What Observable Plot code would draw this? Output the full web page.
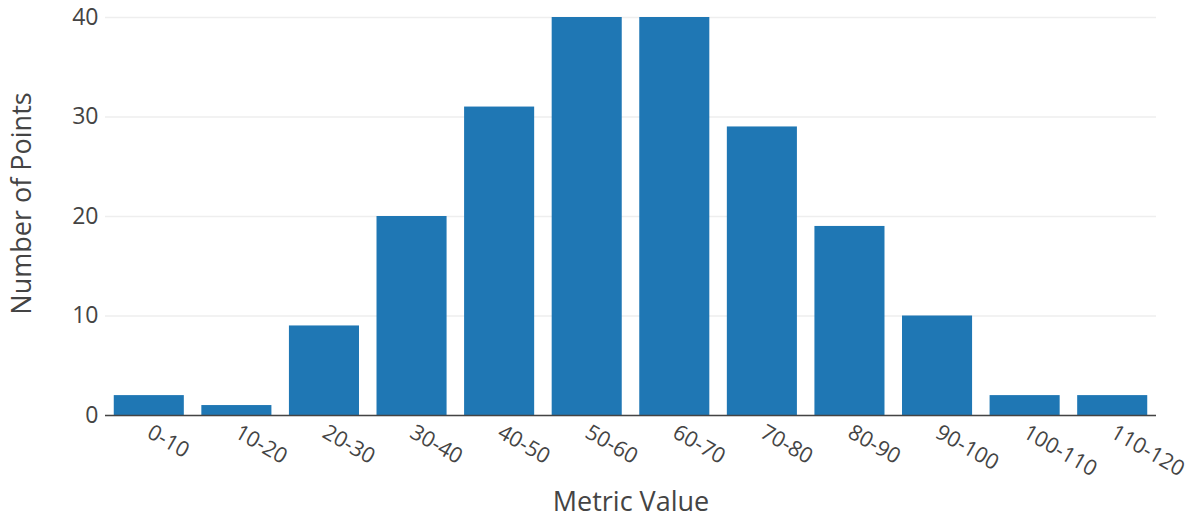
<!DOCTYPE html>
<html>
<head>
<meta charset="utf-8">
<script src="https://cdn.jsdelivr.net/npm/d3@7"></script>
<script src="https://cdn.jsdelivr.net/npm/@observablehq/plot@0.6"></script>
<style>
  html, body { margin: 0; padding: 0; background: #fff; }
  #chart svg { display: block; }
</style>
</head>
<body>
<div id="chart"></div>
<script>
const categories = ["0-10","10-20","20-30","30-40","40-50","50-60","60-70","70-80","80-90","90-100","100-110","110-120"];
const counts = [2, 1, 9, 20, 31, 40, 40, 29, 19, 10, 2, 2];
const yTicks = [0, 10, 20, 30, 40];
const xTitle = "Metric Value";
const yTitle = "Number of Points";

const data = categories.map((c, i) => ({bin: c, count: counts[i]}));

const chart = Plot.plot({
  width: 1194,
  height: 518,
  marginLeft: 105,
  marginRight: 38,
  marginTop: 17,
  marginBottom: 103,
  style: {fontFamily: "'Open Sans', sans-serif", color: "#444", background: "#fff"},
  x: {domain: categories, paddingInner: 0.2, paddingOuter: 0.1, round: false, label: null},
  y: {domain: [0, 40], label: null},
  marks: [
    Plot.gridY(yTicks, {stroke: "#eee", strokeOpacity: 1, strokeWidth: 1.5}),
    Plot.barY(data, {x: "bin", y: "count", fill: "#1f77b4"}),
    Plot.ruleY([0], {stroke: "#444", strokeWidth: 1.5}),
    Plot.axisY({ticks: yTicks, tickSize: 0, tickPadding: 7, fontSize: 23, label: null, fill: "#444"}),
    Plot.axisX({tickSize: 0, tickRotate: 30, tickPadding: 15, fontSize: 21.5, label: null, fill: "#444"}),
    Plot.text([xTitle], {frameAnchor: "bottom", dy: 87, lineAnchor: "middle", textAnchor: "middle", fontSize: 27, fill: "#444"}),
    Plot.text([yTitle], {frameAnchor: "left", dx: -83, dy: -13, rotate: -90, textAnchor: "middle", lineAnchor: "middle", fontSize: 27, fill: "#444"})
  ]
});
document.getElementById("chart").appendChild(chart);
</script>
</body>
</html>
